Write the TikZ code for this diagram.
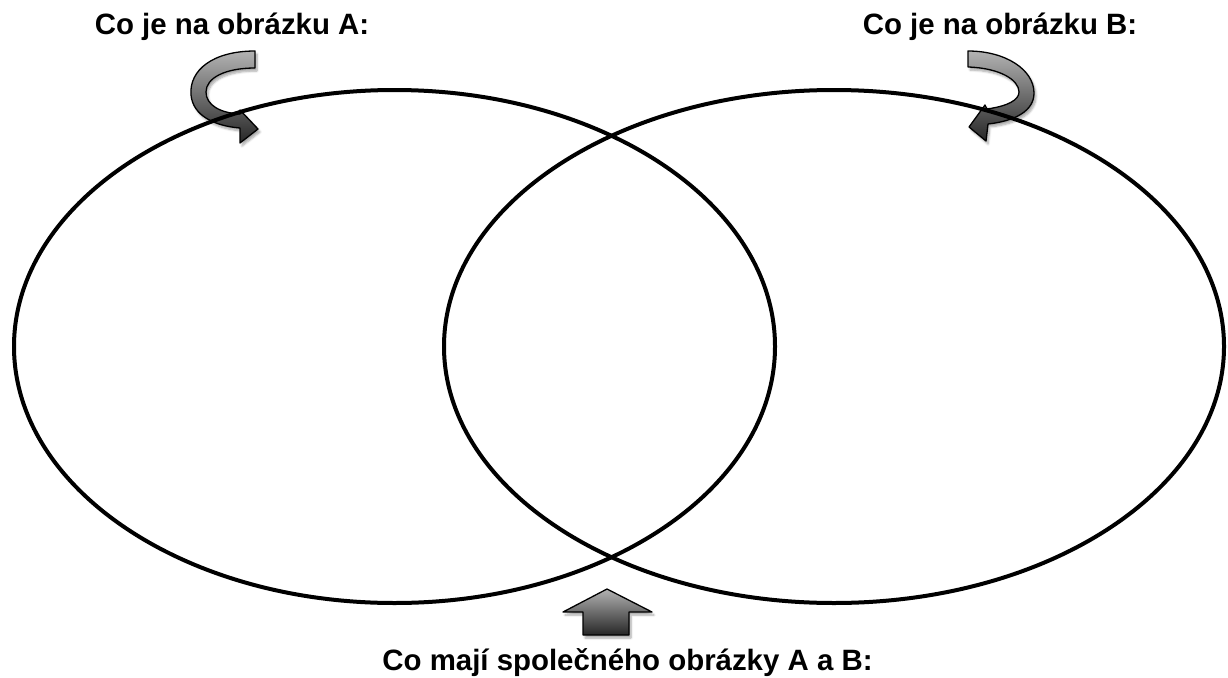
\documentclass[tikz,border=0pt]{standalone}
\usepackage{fontspec}
\setmainfont{Liberation Sans}
\usetikzlibrary{shadows.blur}
\begin{document}
\begin{tikzpicture}[x=1pt,y=-1pt,
  ring/.style={line width=4pt, draw=black},
  headtxt/.style={font=\fontsize{29.4}{35}\selectfont\bfseries, anchor=base, inner sep=0pt},
  curlarrow/.style={draw=black, line width=1.3pt, line join=round, top color=black!30, bottom color=black!85,
    blur shadow={shadow xshift=2pt, shadow yshift=-3pt, shadow blur steps=6, shadow opacity=35}},
]
\useasboundingbox (0,0) rectangle (1228,677);

% curved arrow A
\path[curlarrow] (255,51) .. controls (213,51) and (189,70) .. (191,95)
  .. controls (193,116) and (215,126) .. (240,128) -- (240,143) -- (258,129) -- (240,110) -- (240,114)
  .. controls (220,113) and (206,105) .. (206,92) .. controls (206,78) and (225,68) .. (255,68) -- cycle;
% curved arrow B
\path[curlarrow] (968,51) .. controls (1006,51) and (1034,70) .. (1034,93)
  .. controls (1034,111) and (1015,121) .. (988,124) -- (986,141) -- (969,127) -- (985,105) -- (987,109)
  .. controls (1008,106) and (1019,100) .. (1019,92) .. controls (1019,80) and (1000,68) .. (968,67) -- cycle;
% up arrow
\path[curlarrow] (607,589) -- (652,612) -- (629,612) -- (629,635) -- (583,635) -- (583,612) -- (563,612) -- cycle;

\draw[ring] (394.5,346.5) ellipse [x radius=380.5pt, y radius=256.5pt];
\draw[ring] (834,346.5) ellipse [x radius=390pt, y radius=256.5pt];

\node[headtxt] (ta) at (232,35) {Co je na obrázku A:};
\node[headtxt] (tb) at (1000,35) {Co je na obrázku B:};
\node[headtxt] (tc) at (627.5,670) {Co mají společného obrázky A a B:};
\end{tikzpicture}
\end{document}
